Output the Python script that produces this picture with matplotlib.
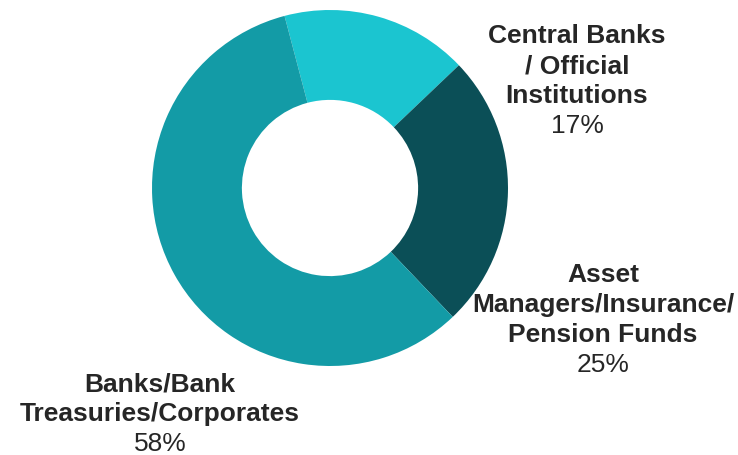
import matplotlib
matplotlib.use('Agg')
import matplotlib.pyplot as plt

# data
labels = [['Central Banks', '/ Official', 'Institutions'],
          ['Asset', 'Managers/Insurance/', 'Pension Funds'],
          ['Banks/Bank', 'Treasuries/Corporates']]
shares = [17, 25, 58]
colors = ['#1BC5D0', '#0B4F57', '#139BA6']

# label anchor: centre x and baseline y of the first line, in pixels
label_pos = [(577, 43), (603, 282), (160, 391)]
line_step = 30

W, H = 738, 455
fig = plt.figure(figsize=(W / 100, H / 100), dpi=100, facecolor='white')

# donut: centre (330,188) px, radius 178 px
cx, cy, r = 330, 188, 178
ax = fig.add_axes([(cx - r) / W, (H - cy - r) / H, 2 * r / W, 2 * r / H])
ax.pie(shares, colors=colors, startangle=104.8, counterclock=False, radius=1,
       wedgeprops=dict(width=0.505, edgecolor='none'))
ax.set_xlim(-1, 1)
ax.set_ylim(-1, 1)
ax.set_aspect('equal')
ax.axis('off')

for lines, val, (px, py) in zip(labels, shares, label_pos):
    for i, txt in enumerate(lines + [f'{val}%']):
        bold = i < len(lines)
        fig.text(px / W, 1 - (py + i * line_step) / H, txt, ha='center', va='baseline',
                 fontsize=19, fontweight='bold' if bold else 'normal',
                 color='#262626', family='Liberation Sans')

plt.savefig('out.png', dpi=100, facecolor='white')
